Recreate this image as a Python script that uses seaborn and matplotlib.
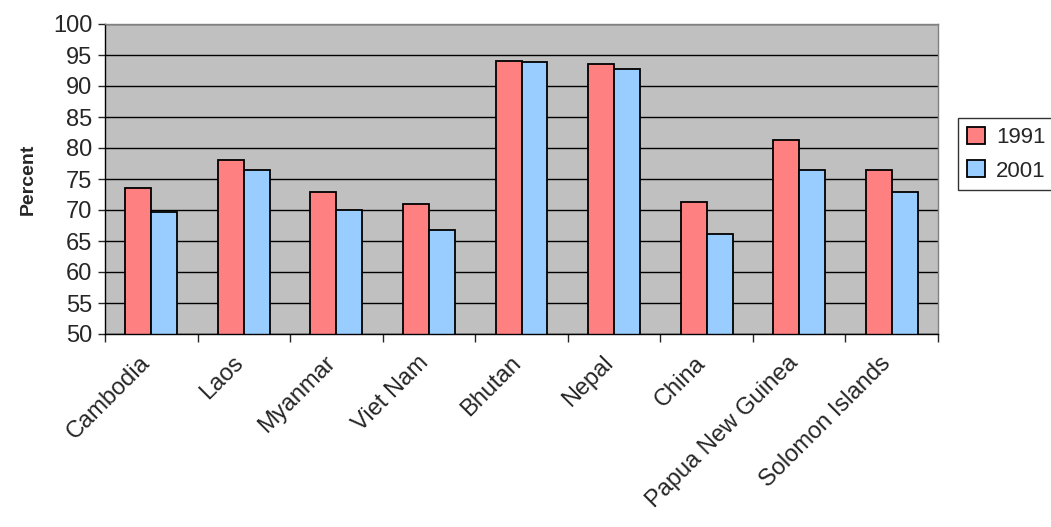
import numpy as np
import matplotlib as mpl
mpl.use('Agg')
import matplotlib.pyplot as plt
import matplotlib.transforms as mtransforms
import pandas as pd
import seaborn as sns

countries = ['Cambodia', 'Laos', 'Myanmar', 'Viet Nam', 'Bhutan', 'Nepal',
             'China', 'Papua New Guinea', 'Solomon Islands']
v1991 = [73.5, 78.0, 72.9, 71.0, 94.1, 93.5, 71.3, 81.3, 76.5]
v2001 = [69.6, 76.5, 70.0, 66.8, 93.8, 92.8, 66.1, 76.5, 72.9]

df = pd.DataFrame({'Country': countries * 2,
                   'Year': ['1991'] * 9 + ['2001'] * 9,
                   'Percent': v1991 + v2001})

sns.set_style("white")
plt.rcParams['font.family'] = ['Liberation Sans', 'DejaVu Sans']

fig = plt.figure(figsize=(10.51, 5.27), dpi=100, facecolor='w')
ax = fig.add_axes([105/1051, 1-334/527, 833/1051, 310/527])
ax.set_facecolor('#c0c0c0')
ax.set_axisbelow(True)
ax.yaxis.grid(True, color='black', lw=1)

sns.barplot(data=df, x='Country', y='Percent', hue='Year',
            palette=['#ff8080', '#99ccff'], width=0.56,
            edgecolor='black', linewidth=1.3, ax=ax, saturation=1)

ax.set_ylim(50, 100)
ax.set_yticks(range(50, 101, 5))
ax.set_xlim(-0.5, len(countries) - 0.5)
ax.set_xticks(np.arange(-0.5, len(countries), 1), minor=True)
ax.set_xticks(range(len(countries)))
ax.set_xticklabels([])
# category labels drawn as text, anchored a bit left of and below each centre
trans = ax.get_xaxis_transform() + mtransforms.ScaledTranslation(-12/100, -18/100, fig.dpi_scale_trans)
for i, name in enumerate(countries):
    ax.text(i, 0, name, transform=trans, rotation=45, ha='right', va='top',
            rotation_mode='anchor', fontsize=17)
ax.tick_params(axis='x', which='major', length=0)
ax.tick_params(axis='x', which='minor', length=6, width=1, direction='out', bottom=True)
ax.tick_params(axis='y', length=5, width=1, direction='out', left=True, labelsize=17, pad=4)
ax.set_xlabel('')
ax.set_ylabel('Percent', fontsize=14, fontweight='bold', labelpad=12)
for s in ['top', 'right']:
    ax.spines[s].set_color('#808080')
for s in ['left', 'bottom']:
    ax.spines[s].set_color('black')
for s in ax.spines.values():
    s.set_linewidth(1)

leg = ax.legend(title=None, loc='center left', bbox_to_anchor=(1.024, 0.58),
                borderaxespad=0, fontsize=16, frameon=True, fancybox=False,
                edgecolor='black', handlelength=0.8, handleheight=0.8,
                handletextpad=0.5, borderpad=0.4, labelspacing=0.55)
leg.get_frame().set_linewidth(1)

plt.savefig('out.png', dpi=100)
